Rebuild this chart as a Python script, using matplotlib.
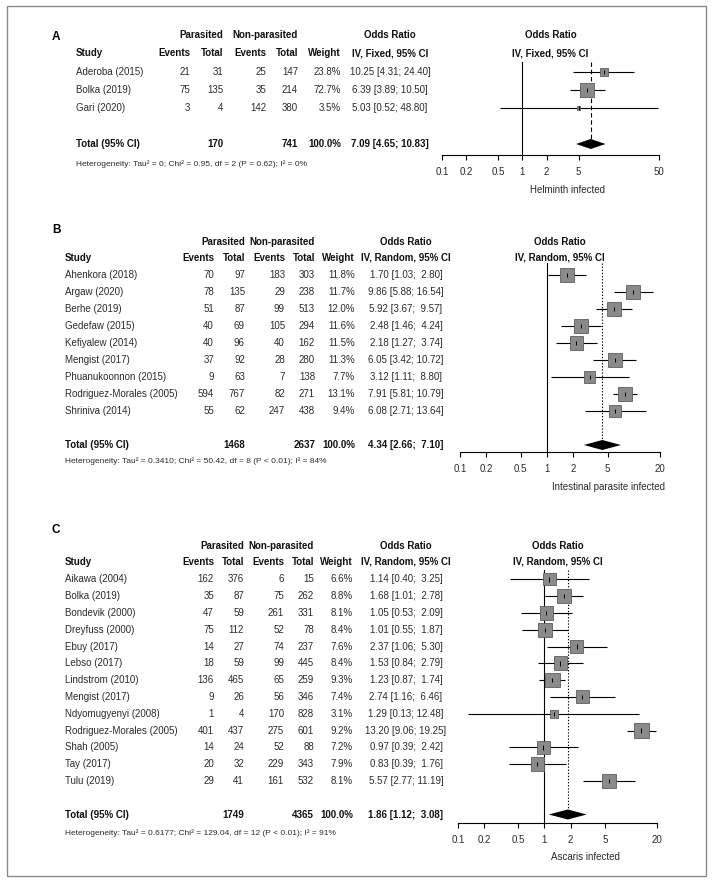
import matplotlib
matplotlib.use('Agg')
import matplotlib.pyplot as plt
from matplotlib.patches import Rectangle
from matplotlib.ticker import NullLocator
import numpy as np

plt.rcParams['font.family'] = ['Liberation Sans', 'DejaVu Sans']

# ---------------- DATA ----------------
# Panel A
studies_A = ["Aderoba (2015)", "Bolka (2019)", "Gari (2020)"]
ev_p_A = [21, 75, 3]
tot_p_A = [31, 135, 4]
ev_n_A = [25, 35, 142]
tot_n_A = [147, 214, 380]
weight_A = [23.8, 72.7, 3.5]
or_A = [10.25, 6.39, 5.03]
lo_A = [4.31, 3.89, 0.52]
hi_A = [24.40, 10.50, 48.80]
total_A = {"p": 170, "n": 741, "or": 7.09, "lo": 4.65, "hi": 10.83}
het_A = "Heterogeneity: Tau² = 0; Chi² = 0.95, df = 2 (P = 0.62); I² = 0%"
ticks_A = [0.1, 0.2, 0.5, 1, 2, 5, 50]
xlabel_A = "Helminth infected"

# Panel B
studies_B = ["Ahenkora (2018)", "Argaw (2020)", "Berhe (2019)", "Gedefaw (2015)",
             "Kefiyalew (2014)", "Mengist (2017)", "Phuanukoonnon (2015)",
             "Rodriguez-Morales (2005)", "Shriniva (2014)"]
ev_p_B = [70, 78, 51, 40, 40, 37, 9, 594, 55]
tot_p_B = [97, 135, 87, 69, 96, 92, 63, 767, 62]
ev_n_B = [183, 29, 99, 105, 40, 28, 7, 82, 247]
tot_n_B = [303, 238, 513, 294, 162, 280, 138, 271, 438]
weight_B = [11.8, 11.7, 12.0, 11.6, 11.5, 11.3, 7.7, 13.1, 9.4]
or_B = [1.70, 9.86, 5.92, 2.48, 2.18, 6.05, 3.12, 7.91, 6.08]
lo_B = [1.03, 5.88, 3.67, 1.46, 1.27, 3.42, 1.11, 5.81, 2.71]
hi_B = [2.80, 16.54, 9.57, 4.24, 3.74, 10.72, 8.80, 10.79, 13.64]
total_B = {"p": 1468, "n": 2637, "or": 4.34, "lo": 2.66, "hi": 7.10}
het_B = "Heterogeneity: Tau² = 0.3410; Chi² = 50.42, df = 8 (P < 0.01); I² = 84%"
ticks_B = [0.1, 0.2, 0.5, 1, 2, 5, 20]
xlabel_B = "Intestinal parasite infected"

# Panel C
studies_C = ["Aikawa (2004)", "Bolka (2019)", "Bondevik (2000)", "Dreyfuss (2000)",
             "Ebuy (2017)", "Lebso (2017)", "Lindstrom (2010)", "Mengist (2017)",
             "Ndyomugyenyi (2008)", "Rodriguez-Morales (2005)", "Shah (2005)",
             "Tay (2017)", "Tulu (2019)"]
ev_p_C = [162, 35, 47, 75, 14, 18, 136, 9, 1, 401, 14, 20, 29]
tot_p_C = [376, 87, 59, 112, 27, 59, 465, 26, 4, 437, 24, 32, 41]
ev_n_C = [6, 75, 261, 52, 74, 99, 65, 56, 170, 275, 52, 229, 161]
tot_n_C = [15, 262, 331, 78, 237, 445, 259, 346, 828, 601, 88, 343, 532]
weight_C = [6.6, 8.8, 8.1, 8.4, 7.6, 8.4, 9.3, 7.4, 3.1, 9.2, 7.2, 7.9, 8.1]
or_C = [1.14, 1.68, 1.05, 1.01, 2.37, 1.53, 1.23, 2.74, 1.29, 13.20, 0.97, 0.83, 5.57]
lo_C = [0.40, 1.01, 0.53, 0.55, 1.06, 0.84, 0.87, 1.16, 0.13, 9.06, 0.39, 0.39, 2.77]
hi_C = [3.25, 2.78, 2.09, 1.87, 5.30, 2.79, 1.74, 6.46, 12.48, 19.25, 2.42, 1.76, 11.19]
total_C = {"p": 1749, "n": 4365, "or": 1.86, "lo": 1.12, "hi": 3.08}
het_C = "Heterogeneity: Tau² = 0.6177; Chi² = 129.04, df = 12 (P < 0.01); I² = 91%"
ticks_C = [0.1, 0.2, 0.5, 1, 2, 5, 20]
xlabel_C = "Ascaris infected"

# ---------------- LAYOUT ----------------
W, H = 713, 883
fig = plt.figure(figsize=(W / 100, H / 100), dpi=100)
bg = fig.add_axes([0, 0, 1, 1])
bg.set_xlim(0, W)
bg.set_ylim(H, 0)
bg.axis('off')
bg.add_patch(Rectangle((7, 6), 699, 870, fill=False, ec='#8a8a8a', lw=1.0))

TXT = '#2b2b2b'
FS = 7


def fmt_ci(o, l, h):
    return f"{o:.2f} [{l:.2f}; {h:5.2f}]"


def tick_label(t):
    return f"{t:g}"


def panel(letter, studies, e1, t1, e2, t2, wt, orr, lo, hi, tot, het, ticks,
          xlabel, method, L):
    n = len(studies)
    first, sp = L['first'], L['sp']
    rows_px = [first + i * sp for i in range(n)]
    tot_px = first + (n + 1) * sp
    cE1, cT1, cE2, cT2, cW = L['cols']

    bg.text(52, L['lab_y'], letter, fontsize=8.5, fontweight='bold',
            ha='left', va='center', color='k')
    # headers
    bold = dict(fontsize=FS, fontweight='bold', va='center', color='#111111')
    bg.text(cT1, L['h1'], "Parasited", ha='right', **bold)
    bg.text(cT2, L['h1'], "Non-parasited", ha='right', **bold)
    bg.text(L['ci_x'], L['h1'], "Odds Ratio", ha='center', **bold)
    px0, px1 = L['plot']
    bg.text((px0 + px1) / 2, L['h1'], "Odds Ratio", ha='center', **bold)
    bg.text(L['study_x'], L['h2'], "Study", ha='left', **bold)
    for x, s in zip([cE1, cT1, cE2, cT2, cW], ["Events", "Total", "Events", "Total", "Weight"]):
        bg.text(x, L['h2'], s, ha='right', **bold)
    bg.text(L['ci_x'], L['h2'], method, ha='center', **bold)
    bg.text((px0 + px1) / 2, L['h2'], method, ha='center', **bold)

    reg = dict(fontsize=FS, va='center', color=TXT)
    for i in range(n):
        y = rows_px[i]
        bg.text(L['study_x'], y, studies[i], ha='left', **reg)
        bg.text(cE1, y, str(e1[i]), ha='right', **reg)
        bg.text(cT1, y, str(t1[i]), ha='right', **reg)
        bg.text(cE2, y, str(e2[i]), ha='right', **reg)
        bg.text(cT2, y, str(t2[i]), ha='right', **reg)
        bg.text(cW, y, f"{wt[i]:.1f}%", ha='right', **reg)
        bg.text(L['ci_x'], y, fmt_ci(orr[i], lo[i], hi[i]), ha='center', **reg)

    bg.text(L['study_x'], tot_px, "Total (95% CI)", ha='left', **bold)
    bg.text(cT1, tot_px, str(tot['p']), ha='right', **bold)
    bg.text(cT2, tot_px, str(tot['n']), ha='right', **bold)
    bg.text(cW, tot_px, "100.0%", ha='right', **bold)
    bg.text(L['ci_x'], tot_px, fmt_ci(tot['or'], tot['lo'], tot['hi']), ha='center', **bold)
    bg.text(L['study_x'], L['het_y'], het, ha='left', va='center', fontsize=6, color=TXT)

    # forest plot axes
    axis_y, top_y = L['axis_y'], L['top_y']
    ax = fig.add_axes([px0 / W, 1 - axis_y / H, (px1 - px0) / W, (axis_y - top_y) / H])
    ax.set_xscale('log')
    ax.set_xlim(ticks[0], ticks[-1])
    ybot = (axis_y - first) / sp
    ytop = (top_y - first) / sp
    ax.set_ylim(ybot, ytop)
    ax.patch.set_visible(False)
    for s in ['top', 'left', 'right']:
        ax.spines[s].set_visible(False)
    ax.spines['bottom'].set_linewidth(0.8)
    ax.set_xticks(ticks)
    ax.set_xticklabels([tick_label(t) for t in ticks])
    ax.xaxis.set_minor_locator(NullLocator())
    ax.set_yticks([])
    ax.tick_params(axis='x', length=3.8, width=0.8, pad=4.5, labelsize=FS, labelcolor=TXT)

    rows = np.arange(n)
    ax.axvline(1, color='k', lw=0.8, zorder=1)
    dh = 5.0 / sp
    ls = (0, (4, 2.5)) if L['fixed'] else (0, (1.2, 1.6))
    ax.vlines(tot['or'], ytop, n + 1 - dh, colors='k', lw=0.8, linestyles=[ls], zorder=1)
    ax.hlines(rows, lo, hi, colors='k', lw=0.8, zorder=2)
    wmax = max(wt)
    side_px = 14.5 * np.sqrt(np.array(wt) / wmax)
    sizes = (side_px * 0.72) ** 2
    ax.scatter(orr, rows, s=sizes, marker='s', c='#8a8a8a', edgecolors='#5e5e5e',
               linewidths=0.6, zorder=3)
    tk = 2.2 / sp
    ax.vlines(orr, rows - tk, rows + tk, colors='k', lw=0.7, zorder=4)
    ax.fill([tot['lo'], tot['or'], tot['hi'], tot['or']],
            [n + 1, n + 1 - dh, n + 1, n + 1 + dh], color='k', lw=0, zorder=3)

    bg.text(L['xl_x'], L['xl_y'], xlabel, ha='center', va='center', fontsize=FS, color=TXT)


panel("A", studies_A, ev_p_A, tot_p_A, ev_n_A, tot_n_A, weight_A, or_A, lo_A, hi_A,
      total_A, het_A, ticks_A, xlabel_A, "IV, Fixed, 95% CI",
      dict(lab_y=37, h1=35, h2=53, first=72, sp=18, het_y=164, axis_y=155, top_y=62,
           xl_x=568, xl_y=190, study_x=76, cols=(190, 223, 266, 298, 341),
           ci_x=390, plot=(442, 659), fixed=True))

panel("B", studies_B, ev_p_B, tot_p_B, ev_n_B, tot_n_B, weight_B, or_B, lo_B, hi_B,
      total_B, het_B, ticks_B, xlabel_B, "IV, Random, 95% CI",
      dict(lab_y=230, h1=242, h2=258, first=275, sp=17, het_y=461, axis_y=452, top_y=263,
           xl_x=608, xl_y=487, study_x=65, cols=(214, 245, 285, 315, 355),
           ci_x=406, plot=(460, 660), fixed=False))

panel("C", studies_C, ev_p_C, tot_p_C, ev_n_C, tot_n_C, weight_C, or_C, lo_C, hi_C,
      total_C, het_C, ticks_C, xlabel_C, "IV, Random, 95% CI",
      dict(lab_y=530, h1=546, h2=562, first=579.3, sp=16.8, het_y=833, axis_y=823, top_y=570,
           xl_x=585, xl_y=857, study_x=65, cols=(214, 244, 284, 314, 353),
           ci_x=406, plot=(458, 657), fixed=False))

fig.savefig("out.png", dpi=100)
